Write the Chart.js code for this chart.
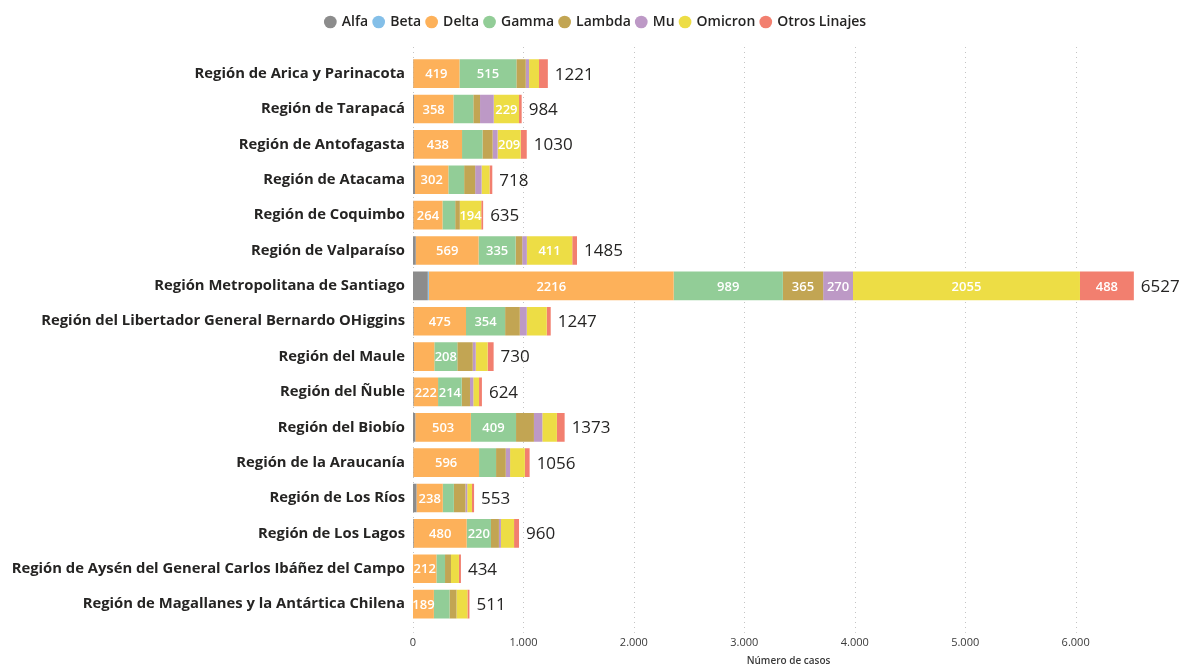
<!DOCTYPE html>
<html>
<head>
<meta charset="utf-8">
<script src="https://cdn.jsdelivr.net/npm/chart.js@4"></script>
<style>
  html, body { margin: 0; padding: 0; background: #fff; }
  #wrap { width: 1179px; height: 667px; }
</style>
</head>
<body>
<div id="wrap"><canvas id="linajes"></canvas></div>
<script>
// Regiones (eje Y)
const regiones = [
    "Región de Arica y Parinacota",
    "Región de Tarapacá",
    "Región de Antofagasta",
    "Región de Atacama",
    "Región de Coquimbo",
    "Región de Valparaíso",
    "Región Metropolitana de Santiago",
    "Región del Libertador General Bernardo OHiggins",
    "Región del Maule",
    "Región del Ñuble",
    "Región del Biobío",
    "Región de la Araucanía",
    "Región de Los Ríos",
    "Región de Los Lagos",
    "Región de Aysén del General Carlos Ibáñez del Campo",
    "Región de Magallanes y la Antártica Chilena"
];

// Casos por linaje
const alfa    = [2, 8, 6, 18, 3, 25, 134, 5, 8, 5, 21, 2, 32, 6, 0, 0];
const beta    = [0, 0, 0, 0, 0, 0, 10, 0, 0, 0, 0, 0, 0, 0, 0, 0];
const delta   = [419, 358, 438, 302, 264, 569, 2216, 475, 185, 222, 503, 596, 238, 480, 212, 189];
const gamma   = [515, 180, 185, 143, 115, 335, 989, 354, 208, 214, 409, 154, 100, 220, 78, 142];
const lambda  = [85, 61, 92, 100, 42, 60, 365, 133, 140, 75, 162, 88, 105, 72, 54, 63];
const mu      = [30, 124, 45, 58, 0, 42, 270, 63, 27, 30, 76, 39, 16, 18, 0, 0];
const omicron = [90, 229, 209, 72, 194, 411, 2055, 181, 108, 52, 132, 134, 43, 119, 72, 99];
const otros   = [80, 24, 55, 25, 17, 43, 488, 36, 54, 26, 70, 43, 19, 45, 18, 18];

// Totales que se muestran al final de cada barra
const totales = [1221, 984, 1030, 718, 635, 1485, 6527, 1247, 730, 624, 1373, 1056, 553, 960, 434, 511];

const ejeTicks = [0, 1000, 2000, 3000, 4000, 5000, 6000];

const fuente = "'Segoe UI', 'Open Sans', 'Noto Sans', sans-serif";
const minEtiqueta = 189; // segmentos mas chicos no llevan numero

// Lineas punteadas verticales, un poco mas largas que el area del grafico
const grillaPlugin = {
    id: "grilla",
    beforeDatasetsDraw(chart) {
        const ctx = chart.ctx;
        const area = chart.chartArea;
        const xScale = chart.scales.x;
        ctx.save();
        ctx.strokeStyle = "#c4c4c4";
        ctx.lineWidth = 1;
        ctx.setLineDash([1, 4]);
        ejeTicks.forEach(v => {
            const x = Math.round(xScale.getPixelForValue(v)) + 0.5;
            ctx.beginPath();
            ctx.moveTo(x, area.top - 9);
            ctx.lineTo(x, area.bottom + 11);
            ctx.stroke();
        });
        ctx.restore();
    }
};

// Dibuja los numeros dentro de los segmentos y el total a la derecha
const etiquetasPlugin = {
    id: "etiquetas",
    afterDatasetsDraw(chart) {
        const ctx = chart.ctx;
        ctx.save();
        ctx.textBaseline = "middle";

        ctx.fillStyle = "#ffffff";
        ctx.textAlign = "center";
        ctx.font = "600 13px " + fuente;
        chart.data.datasets.forEach((ds, i) => {
            const meta = chart.getDatasetMeta(i);
            meta.data.forEach((bar, j) => {
                const v = ds.data[j];
                if (v < minEtiqueta) return;
                ctx.fillText(String(v), (bar.x + bar.base) / 2, bar.y + 1);
            });
        });

        ctx.fillStyle = "#252423";
        ctx.textAlign = "left";
        ctx.font = "17px " + fuente;
        const xScale = chart.scales.x;
        const last = chart.getDatasetMeta(chart.data.datasets.length - 1);
        totales.forEach((t, j) => {
            const x = xScale.getPixelForValue(t) + 7;
            ctx.fillText(String(t), x, last.data[j].y + 1);
        });
        ctx.restore();
    }
};

// Espacio extra bajo la leyenda y leyenda algo corrida a la derecha
const ajusteLeyenda = {
    id: "ajusteLeyenda",
    beforeInit(chart) {
        const legend = chart.legend;
        const fit = legend.fit;
        legend.fit = function () {
            fit.call(this);
            this.height += 17;
        };
        const draw = legend.draw;
        legend.draw = function () {
            chart.ctx.save();
            chart.ctx.translate(14, 0);
            draw.call(this);
            chart.ctx.restore();
        };
    }
};

function serie(label, data, color) {
    return {
        label: label,
        data: data,
        backgroundColor: color,
        borderWidth: 0,
        categoryPercentage: 1,
        barPercentage: 0.81
    };
}

const ctx = document.getElementById("linajes").getContext("2d");
new Chart(ctx, {
    type: "bar",
    data: {
        labels: regiones,
        datasets: [
            serie("Alfa", alfa, "#8c8c8c"),
            serie("Beta", beta, "#84bfe8"),
            serie("Delta", delta, "#fdb15a"),
            serie("Gamma", gamma, "#92cd97"),
            serie("Lambda", lambda, "#c2a553"),
            serie("Mu", mu, "#bd99c6"),
            serie("Omicron", omicron, "#eddd45"),
            serie("Otros Linajes", otros, "#f27f6f")
        ]
    },
    options: {
        indexAxis: "y",
        responsive: true,
        maintainAspectRatio: false,
        animation: false,
        layout: { padding: { top: 9, right: 15, left: 0, bottom: 0 } },
        plugins: {
            legend: {
                position: "top",
                labels: {
                    usePointStyle: true,
                    pointStyle: "circle",
                    boxWidth: 9,
                    boxHeight: 9,
                    padding: 6,
                    color: "#252423",
                    font: { family: fuente, size: 14, weight: "600" }
                }
            },
            tooltip: { enabled: false }
        },
        scales: {
            x: {
                stacked: true,
                min: 0,
                max: 6800,
                afterBuildTicks: (axis) => {
                    axis.ticks = ejeTicks.map(v => ({ value: v }));
                },
                grid: { display: false },
                border: { display: false },
                ticks: {
                    color: "#3a3a3a",
                    padding: 6,
                    font: { family: fuente, size: 11 },
                    callback: (v) => v.toLocaleString("es-CL")
                },
                title: {
                    display: true,
                    text: "Número de casos",
                    color: "#3a3a3a",
                    padding: { top: 0, bottom: 0 },
                    font: { family: fuente, size: 10, weight: "600" }
                }
            },
            y: {
                stacked: true,
                afterFit: (axis) => { axis.width = 413; },
                grid: { display: false },
                border: { display: false },
                ticks: {
                    color: "#252423",
                    padding: 0,
                    font: { family: fuente, size: 14.8, weight: "bold" }
                }
            }
        }
    },
    plugins: [ajusteLeyenda, grillaPlugin, etiquetasPlugin]
});
</script>
</body>
</html>
